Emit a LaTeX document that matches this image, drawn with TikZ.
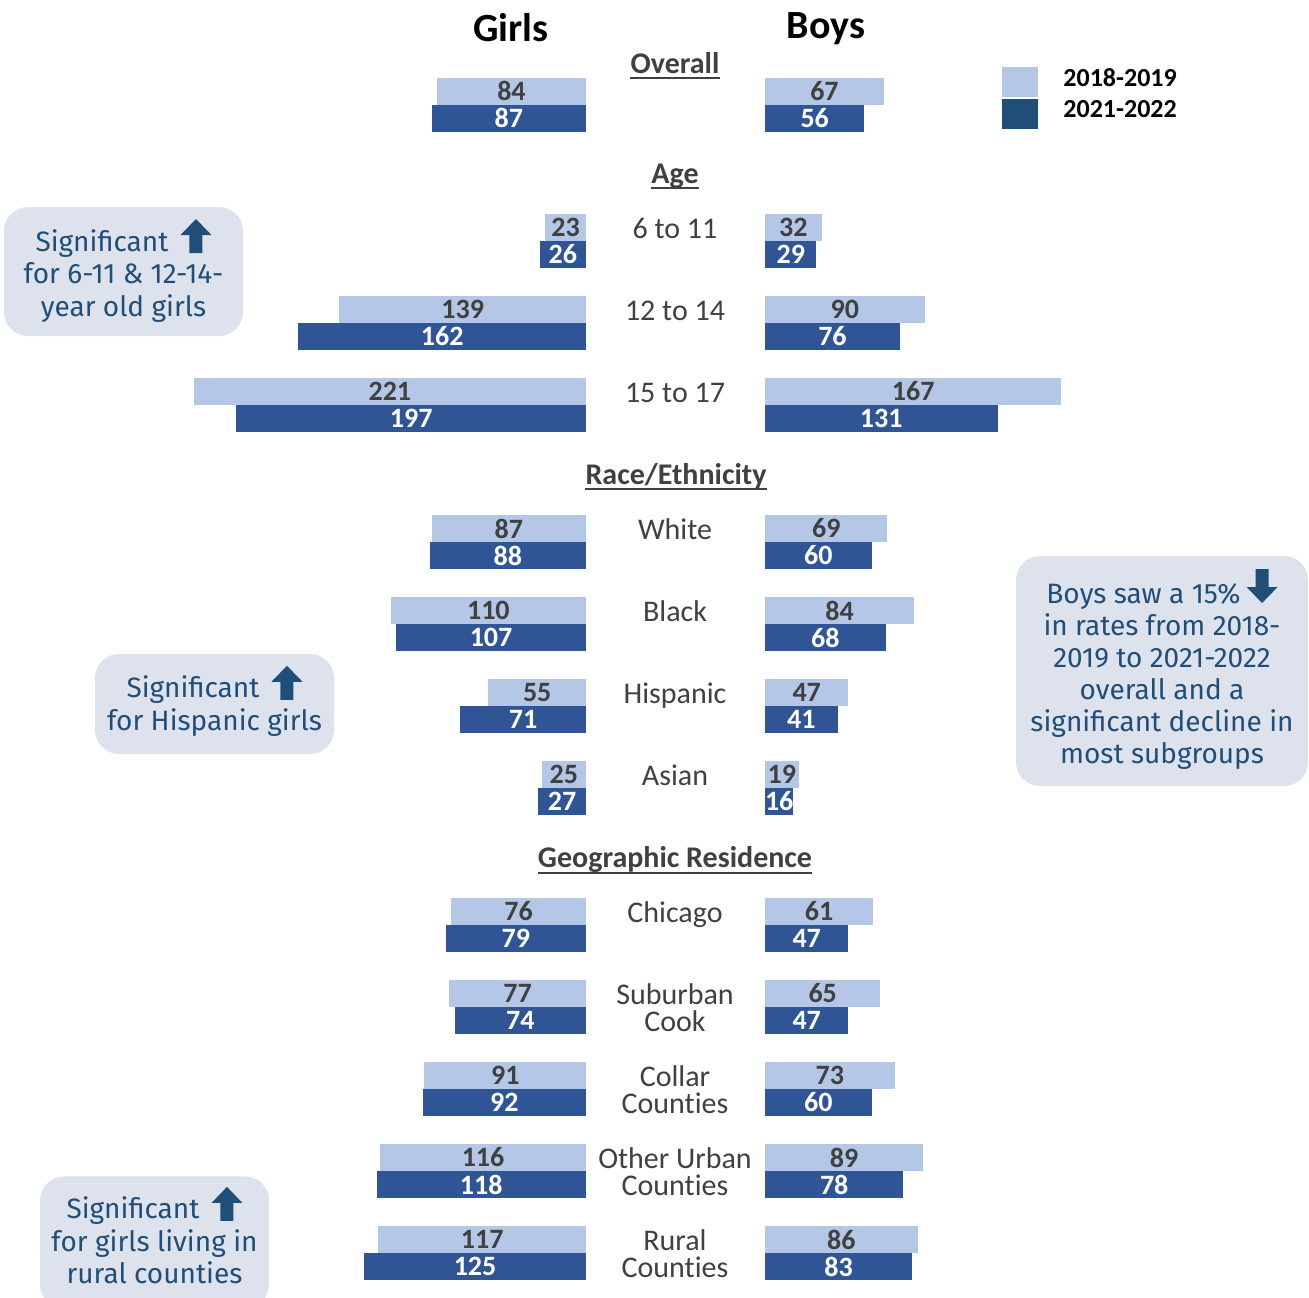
\documentclass[tikz,border=0pt]{standalone}
\usepackage{fontspec}
\setmainfont{Carlito}[Ligatures=NoCommon]
\newfontfamily\calloutfont{Fira Sans}
\definecolor{lightbar}{HTML}{B4C7E7}
\definecolor{darkbar}{HTML}{2F5597}
\definecolor{navy}{HTML}{1F4E79}
\definecolor{boxfill}{HTML}{DEE2EC}
\definecolor{txtgrey}{HTML}{404040}
\newcommand\myUpArrow{\smash{\tikz[x=1pt,y=1pt,baseline=1pt,sharp corners]\fill[navy,sharp corners] (-3.25,0) -- (3.25,0) -- (3.25,9) -- (7.75,9) -- (0,17) -- (-7.75,9) -- (-3.25,9) -- cycle;}}
\newcommand\myDownArrow{\smash{\tikz[x=1pt,y=1pt,baseline=0pt,sharp corners]\fill[navy,sharp corners] (-3.25,17) -- (3.25,17) -- (3.25,8) -- (7.75,8) -- (0,0) -- (-7.75,8) -- (-3.25,8) -- cycle;}}
\tikzset{
  numL/.style={font=\bfseries\fontsize{14}{16}\selectfont, text=txtgrey, inner sep=0pt},
  numD/.style={font=\bfseries\fontsize{14}{16}\selectfont, text=white, inner sep=0pt},
  catlabel/.style={font=\fontsize{15}{13.5}\selectfont, text=txtgrey, align=center, inner sep=0pt},
  hdr/.style={font=\bfseries\fontsize{15}{18}\selectfont, text=txtgrey, inner sep=0pt, anchor=base},
  uline/.style={txtgrey, line width=1pt},
  titlelabel/.style={font=\bfseries\fontsize{20}{24}\selectfont, inner sep=0pt, anchor=base},
  legtxt/.style={font=\bfseries\fontsize{13}{15}\selectfont, anchor=west, inner sep=0pt},
  callout/.style={fill=boxfill, rounded corners=12pt, text=navy, font=\calloutfont\fontsize{14}{16.25}\selectfont, align=center, inner sep=0pt},
}
\newcommand\barrow[6]{%
  \pgfmathsetmacro\bGa{586-1.775*#3}%
  \pgfmathsetmacro\bGb{586-1.775*#4}%
  \pgfmathsetmacro\bBa{765+1.775*#5}%
  \pgfmathsetmacro\bBb{765+1.775*#6}%
  \pgfmathsetmacro\bYm{#2+27}%
  \pgfmathsetmacro\bYb{#2+54}%
  \pgfmathsetmacro\bYla{#2+13.5}%
  \pgfmathsetmacro\bYlb{#2+40.5}%
  \fill[lightbar] (\bGa,#2) rectangle (586,\bYm);
  \fill[darkbar] (\bGb,\bYm) rectangle (586,\bYb);
  \fill[lightbar] (765,#2) rectangle (\bBa,\bYm);
  \fill[darkbar] (765,\bYm) rectangle (\bBb,\bYb);
  \node[numL] (#1-g18) at ({(\bGa+586)/2},\bYla) {#3};
  \node[numD] (#1-g21) at ({(\bGb+586)/2},\bYlb) {#4};
  \node[numL] (#1-b18) at ({(\bBa+765)/2},\bYla) {#5};
  \node[numD] (#1-b21) at ({(\bBb+765)/2},\bYlb) {#6};
}
\begin{document}
\begin{tikzpicture}[x=0.5pt,y=-0.5pt]
\useasboundingbox (0,0) rectangle (1309,1297);
\fill[white] (0,0) rectangle (1309,1297);

% titles
\node[titlelabel] (girls) at (511,41) {Girls};
\node[titlelabel] (boys) at (826,38) {Boys};

% legend
\fill[lightbar] (1002,67) rectangle (1038,97);
\fill[navy] (1002,99) rectangle (1038,129);
\node[legtxt] (leg1) at (1063,78) {2018-2019};
\node[legtxt] (leg2) at (1063,109) {2021-2022};

% section headers
\node[hdr] (h-ov) at (675,73) {Overall};
\draw[uline] ([yshift=-2.5pt]h-ov.base west) -- ([yshift=-2.5pt]h-ov.base east);
\node[hdr] (h-age) at (675,183) {Age};
\draw[uline] ([yshift=-2.5pt]h-age.base west) -- ([yshift=-2.5pt]h-age.base east);
\node[hdr] (h-race) at (676,484) {Race/Ethnicity};
\draw[uline] ([yshift=-2.5pt]h-race.base west) -- ([yshift=-2.5pt]h-race.base east);
\node[hdr] (h-geo) at (675,867) {Geographic Residence};
\draw[uline] ([yshift=-3pt]h-geo.base west) -- ([yshift=-3pt]h-geo.base east);

% bars
\barrow{ov}{77.5}{84}{87}{67}{56}
\barrow{a1}{214}{23}{26}{32}{29}
\barrow{a2}{296}{139}{162}{90}{76}
\barrow{a3}{378}{221}{197}{167}{131}
\barrow{r1}{515}{87}{88}{69}{60}
\barrow{r2}{597}{110}{107}{84}{68}
\barrow{r3}{679}{55}{71}{47}{41}
\barrow{r4}{761}{25}{27}{19}{16}
\barrow{g1}{898}{76}{79}{61}{47}
\barrow{g2}{980}{77}{74}{65}{47}
\barrow{g3}{1062}{91}{92}{73}{60}
\barrow{g4}{1144}{116}{118}{89}{78}
\barrow{g5}{1226}{117}{125}{86}{83}

% category labels
\node[catlabel, anchor=base] (c-a1) at (675,238) {6 to 11};
\node[catlabel, anchor=base] (c-a2) at (675,320) {12 to 14};
\node[catlabel, anchor=base] (c-a3) at (675,402) {15 to 17};
\node[catlabel, anchor=base] (c-r1) at (675,539) {White};
\node[catlabel, anchor=base] (c-r2) at (675,621) {Black};
\node[catlabel, anchor=base] (c-r3) at (675,703) {Hispanic};
\node[catlabel, anchor=base] (c-r4) at (675,785) {Asian};
\node[catlabel, anchor=base] (c-g1) at (675,922) {Chicago};
\node[catlabel] (c-g2) at (675,1007.5) {Suburban\\Cook};
\node[catlabel] (c-g3) at (675,1089.5) {Collar\\Counties};
\node[catlabel] (c-g4) at (675,1171.5) {Other Urban\\Counties};
\node[catlabel] (c-g5) at (675,1253.5) {Rural\\Counties};

% callouts
\node[callout, minimum width=119.5pt, minimum height=64.5pt] (co1) at (123.5,271.5)
  {\rule{0pt}{15pt}Significant\hspace{6pt}\myUpArrow\\for 6-11 \& 12-14-\\year old girls};
\node[callout, minimum width=119.5pt, minimum height=50pt] (co2) at (214.5,704)
  {\rule{0pt}{13pt}Significant\hspace{6pt}\myUpArrow\\for Hispanic girls};
\node[callout, minimum width=146pt, minimum height=115pt, font=\calloutfont\fontsize{14}{16}\selectfont] (co3) at (1162,671)
  {\rule{0pt}{15pt}Boys saw a 15\%\hspace{3pt}\myDownArrow\\in rates from 2018-\\2019 to 2021-2022\\overall and a\\significant decline in\\most subgroups};
\begin{scope}
\clip (0,0) rectangle (1309,1297);
\node[callout, minimum width=114.5pt, minimum height=66pt, anchor=north] (co4) at (154.5,1176)
  {\rule{0pt}{15pt}Significant\hspace{6pt}\myUpArrow\\for girls living in\\rural counties\rule[-6pt]{0pt}{1pt}};
\end{scope}
\end{tikzpicture}
\end{document}
